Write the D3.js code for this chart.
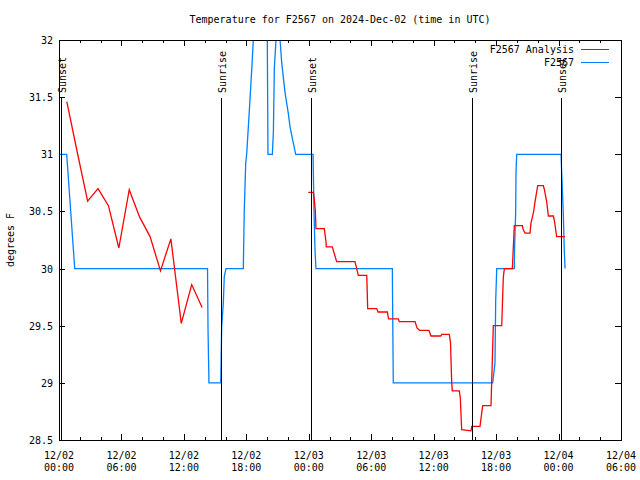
<!DOCTYPE html>
<html><head><meta charset="utf-8">
<script src="https://cdn.jsdelivr.net/npm/d3@7"></script>
<style>
body{margin:0;background:#fff}
text{font-family:"DejaVu Sans Mono",monospace;font-size:10px;fill:#000}
</style>
</head><body>
<svg id="chart" width="640" height="480"></svg>
<script>
const titleText = "Temperature for F2567 on 2024-Dec-02 (time in UTC)";
const yAxisLabel = "degrees F";
const seriesNames = ["F2567 Analysis", "F2567"];
const seriesColors = ["#ff0000", "#0080ff"];

// x in hours since 2024-12-02 00:00 UTC
const xTickHours = [0, 6, 12, 18, 24, 30, 36, 42, 48, 54];
const xTickDates = ["12/02","12/02","12/02","12/02","12/03","12/03","12/03","12/03","12/04","12/04"];
const xTickTimes = ["00:00","06:00","12:00","18:00","00:00","06:00","12:00","18:00","00:00","06:00"];
const yTicks = [28.5, 29, 29.5, 30, 30.5, 31, 31.5, 32];
const yTickLabels = ["28.5","29","29.5","30","30.5","31","31.5","32"];

const sunHours = [0.19, 15.52, 24.21, 39.68, 48.24];
const sunLabels = ["Sunset","Sunrise","Sunset","Sunrise","Sunset"];

// Observations (F2567)
const obsHours = [0,0.74,1.51,14.27,14.32,14.41,15.54,15.63,15.79,15.88,16.05,17.71,17.80,17.94,18.04,18.35,18.57,18.67,19.2,19.95,20.08,20.50,20.60,20.69,20.85,21.05,21.24,21.40,21.72,22.03,22.20,22.51,22.74,24.41,24.50,24.60,24.69,32.03,32.05,32.12,41.67,41.89,41.96,42.06,43.75,43.77,43.88,43.91,43.98,48.24,48.30,48.45,48.55,48.62];
const obsTemps = [31,31,30,30,29.46,29.0,29,29.49,29.70,29.93,30,30,30.50,30.92,31.01,31.475,31.825,32.0,33.0,33.0,31.0,31.0,31.2,31.75,32.0,32.6,32.0,31.80,31.54,31.36,31.24,31.10,31.0,31.0,30.51,30.16,30.0,30.0,29.75,29.0,29.0,29.17,29.72,30.0,30.0,30.16,30.5,30.84,31.0,31.0,30.84,30.5,30.16,30.0];

// Analysis (F2567 Analysis), two segments
const anaHours1 = [0.75,1.75,2.75,3.75,4.75,5.75,6.75,7.75,8.75,9.75,10.75,11.75,12.75,13.75];
const anaTemps1 = [31.46,31.02,30.59,30.70,30.55,30.18,30.69,30.45,30.28,29.98,30.26,29.52,29.86,29.66];
const anaHours2 = [23.95,24.44,24.50,24.63,24.69,25.49,25.66,25.68,26.26,26.68,28.44,28.76,29.57,29.66,30.53,30.65,31.55,31.66,32.60,32.70,34.21,34.40,34.64,35.55,35.74,36.68,36.77,37.50,37.62,37.73,37.79,38.46,38.56,38.69,39.59,39.66,40.45,40.71,41.51,41.73,42.54,42.69,42.79,43.56,43.75,44.52,44.61,44.78,45.26,45.35,45.59,45.74,46.00,46.54,46.64,46.86,47.02,47.50,47.59,47.82,48.62];
const anaTemps2 = [30.667,30.667,30.63,30.51,30.35,30.35,30.23,30.19,30.19,30.06,30.06,29.94,29.94,29.65,29.65,29.62,29.62,29.56,29.56,29.535,29.535,29.48,29.46,29.46,29.41,29.41,29.425,29.425,29.35,29.01,28.93,28.93,28.87,28.59,28.58,28.62,28.62,28.80,28.80,29.50,29.50,29.92,30.00,30.00,30.375,30.375,30.34,30.31,30.31,30.40,30.49,30.585,30.725,30.725,30.69,30.585,30.46,30.46,30.425,30.28,30.28];

const L = 59, R = 621, T = 40, B = 440;
const svg = d3.select("#chart");
const x = d3.scaleLinear().domain([0, 54]).range([L, R]);
const y = d3.scaleLinear().domain([28.5, 32]).range([B, T]);

svg.append("defs").append("clipPath").attr("id","clip")
  .append("rect").attr("x", L).attr("y", T).attr("width", R - L).attr("height", B - T);

// Title
svg.append("text").attr("x", (L + R) / 2).attr("y", 23).attr("text-anchor","middle").text(titleText);

// Ticks (inward, mirrored)
const minorHours = d3.range(0, 55, 2).filter(h => h % 6 !== 0);
const tickG = svg.append("g").attr("stroke","#000").attr("stroke-width",1).attr("shape-rendering","crispEdges");
xTickHours.forEach(h => {
  const px = Math.round(x(h)) + 0.5;
  tickG.append("line").attr("x1",px).attr("x2",px).attr("y1",B).attr("y2",B-6);
  tickG.append("line").attr("x1",px).attr("x2",px).attr("y1",T).attr("y2",T+6);
});
minorHours.forEach(h => {
  const px = Math.round(x(h)) + 0.5;
  tickG.append("line").attr("x1",px).attr("x2",px).attr("y1",B).attr("y2",B-3);
  tickG.append("line").attr("x1",px).attr("x2",px).attr("y1",T).attr("y2",T+3);
});
yTicks.forEach(v => {
  const py = Math.round(y(v)) + 0.5;
  tickG.append("line").attr("x1",L).attr("x2",L+6).attr("y1",py).attr("y2",py);
  tickG.append("line").attr("x1",R).attr("x2",R-6).attr("y1",py).attr("y2",py);
});

// Tick labels
xTickHours.forEach((h, i) => {
  svg.append("text").attr("x", x(h)).attr("y", 459).attr("text-anchor","middle").text(xTickDates[i]);
  svg.append("text").attr("x", x(h)).attr("y", 471).attr("text-anchor","middle").text(xTickTimes[i]);
});
yTicks.forEach((v, i) => {
  svg.append("text").attr("x", 53).attr("y", y(v) + 4).attr("text-anchor","end").text(yTickLabels[i]);
});

// Y label
svg.append("text").attr("transform","translate(14,240) rotate(-90)").attr("text-anchor","middle").text(yAxisLabel);

// Data lines
const line = d3.line().x(d => x(d[0])).y(d => y(d[1]));
const plot = svg.append("g").attr("clip-path","url(#clip)");
plot.append("path").datum(d3.zip(obsHours, obsTemps))
  .attr("d", line).attr("fill","none").attr("stroke", seriesColors[1]).attr("stroke-width",1.3);
[[anaHours1, anaTemps1],[anaHours2, anaTemps2]].forEach(([h, t]) => {
  plot.append("path").datum(d3.zip(h, t))
    .attr("d", line).attr("fill","none").attr("stroke", seriesColors[0]).attr("stroke-width",1.3);
});

// Sun events
sunHours.forEach((h, i) => {
  const px = Math.round(x(h)) + 0.5;
  svg.append("line").attr("x1",px).attr("x2",px).attr("y1",98).attr("y2",B)
    .attr("stroke","#000").attr("stroke-width",1.2).attr("shape-rendering","crispEdges");
  svg.append("text").attr("transform",`translate(${x(h)+5},93) rotate(-90)`)
    .attr("text-anchor","start").text(sunLabels[i]);
});

// Frame
svg.append("rect").attr("x",L+0.5).attr("y",T+0.5).attr("width",R-L).attr("height",B-T)
  .attr("fill","none").attr("stroke","#000").attr("stroke-width",1).attr("shape-rendering","crispEdges");

// Legend
seriesNames.forEach((name, i) => {
  const by = [53, 66][i];
  const ly = [49, 62][i];
  svg.append("text").attr("x", 574).attr("y", by).attr("text-anchor","end").text(name);
  svg.append("line").attr("x1",581).attr("x2",609).attr("y1",ly+0.5).attr("y2",ly+0.5)
    .attr("stroke", seriesColors[i]).attr("stroke-width",1.2).attr("shape-rendering","crispEdges");
});
</script>
</body></html>
